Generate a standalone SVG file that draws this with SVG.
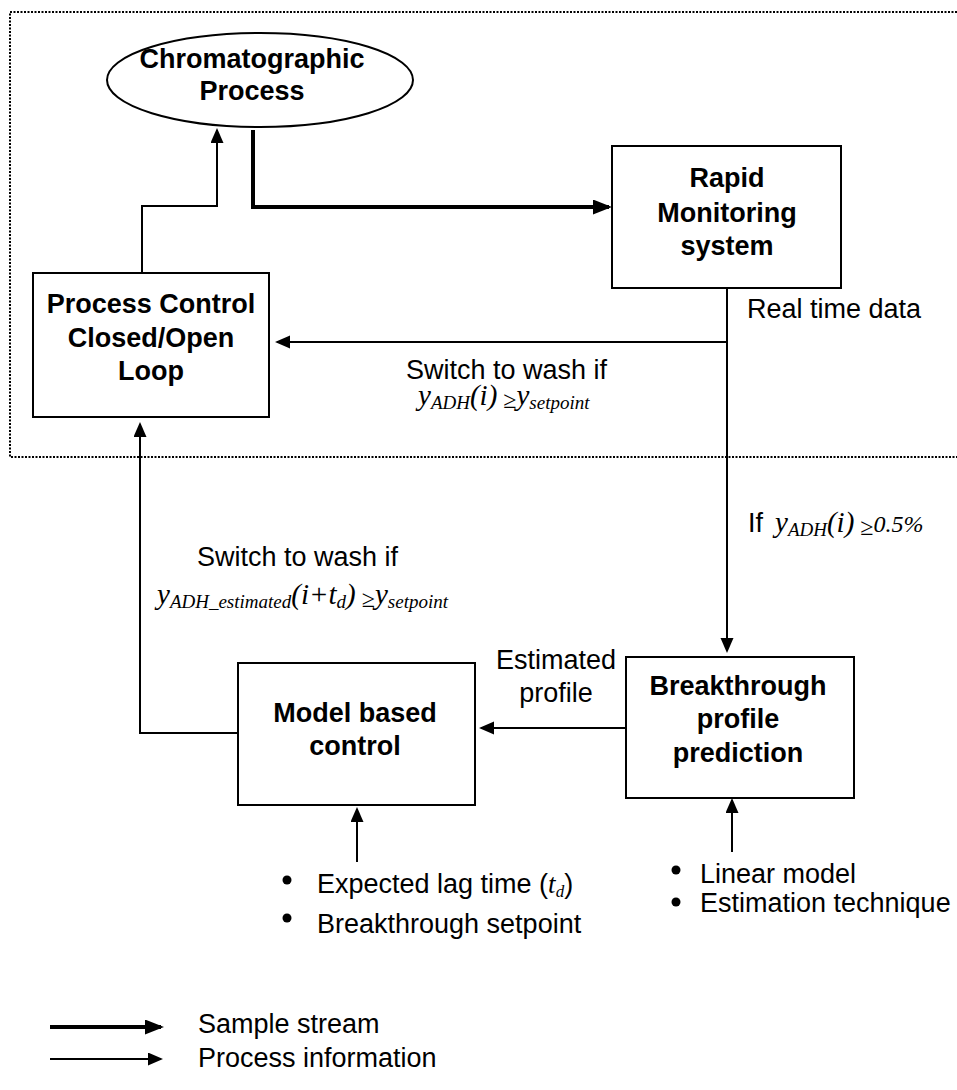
<svg xmlns="http://www.w3.org/2000/svg" width="957" height="1090" viewBox="0 0 957 1090">
  <style>
    .box { fill: #fff; stroke: #000; stroke-width: 2; }
    .title { font-family: "Liberation Sans", Arial, sans-serif; font-weight: bold; font-size: 27px; text-anchor: middle; fill: #000; }
    .lbl { font-family: "Liberation Sans", Arial, sans-serif; font-size: 27px; fill: #000; }
    .math { font-family: "Liberation Serif", "Times New Roman", serif; font-style: italic; font-size: 29px; fill: #000; }
    .sub { font-size: 19px; }
    .ge { font-size: 24px; font-style: normal; }
    .thin { fill: none; stroke: #000; stroke-width: 2; marker-end: url(#head); }
    .thick { fill: none; stroke: #000; stroke-width: 4; marker-end: url(#headBig); }
    .frame { fill: none; stroke: #000; stroke-width: 2; stroke-dasharray: 2 1.5; }
  </style>
  <defs>
    <marker id="head" markerUnits="userSpaceOnUse" markerWidth="16" markerHeight="14" refX="13" refY="6.5" orient="auto">
      <path d="M0,0 L15,6.5 L0,13 z" fill="#000"/>
    </marker>
    <marker id="headBig" markerUnits="userSpaceOnUse" markerWidth="20" markerHeight="16" refX="16" refY="7.5" orient="auto">
      <path d="M0,0 L19,7.5 L0,15 z" fill="#000"/>
    </marker>
  </defs>

  <rect width="957" height="1090" fill="#fff"/>

  <!-- dotted boundary of the real-time monitoring loop -->
  <path class="frame" d="M957,12 H10 V457 H957"/>

  <g id="connectors">
    <path class="thin" d="M142,273 V206 H217 V130"/>
    <path class="thick" d="M253,130 V207 H609"/>
    <path class="thin" d="M727,288 V651"/>
    <path class="thin" d="M727,342 H277"/>
    <path class="thin" d="M238,733 H140 V424"/>
    <path class="thin" d="M626,728 H481"/>
    <path class="thin" d="M357,862 V809"/>
    <path class="thin" d="M732,852 V800"/>
  </g>

  <g id="chromatographic-process">
    <ellipse cx="260" cy="80" rx="153" ry="47" class="box"/>
    <text class="title" x="252" y="68">Chromatographic</text>
    <text class="title" x="252" y="100">Process</text>
  </g>

  <g id="rapid-monitoring">
    <rect x="612" y="146" width="229" height="142" class="box"/>
    <text class="title" x="727" y="187">Rapid</text>
    <text class="title" x="727" y="222">Monitoring</text>
    <text class="title" x="727" y="255">system</text>
  </g>

  <g id="process-control">
    <rect x="33" y="273" width="236" height="144" class="box"/>
    <text class="title" x="151" y="313">Process Control</text>
    <text class="title" x="151" y="347">Closed/Open</text>
    <text class="title" x="151" y="380">Loop</text>
  </g>

  <g id="model-based-control">
    <rect x="238" y="663" width="237" height="142" class="box"/>
    <text class="title" x="355" y="722">Model based</text>
    <text class="title" x="355" y="755">control</text>
  </g>

  <g id="breakthrough-prediction">
    <rect x="626" y="657" width="228" height="141" class="box"/>
    <text class="title" x="738" y="695">Breakthrough</text>
    <text class="title" x="738" y="728">profile</text>
    <text class="title" x="738" y="762">prediction</text>
  </g>

  <g id="labels">
    <text class="lbl" x="747" y="318">Real time data</text>

    <text class="lbl" x="406" y="379">Switch to wash if</text>
    <text class="math" x="418" y="405">y<tspan class="sub" dy="4">ADH</tspan><tspan dy="-4">(i)</tspan><tspan class="ge" dy="3"> ≥</tspan><tspan dy="-3">y</tspan><tspan class="sub" dy="4">setpoint</tspan></text>

    <text class="lbl" x="748" y="532">If</text>
    <text class="math" x="775" y="532">y<tspan class="sub" dy="4">ADH</tspan><tspan dy="-4">(i)</tspan><tspan class="ge" dy="3"> ≥</tspan><tspan font-size="24" dy="-3">0.5%</tspan></text>

    <text class="lbl" x="197" y="566">Switch to wash if</text>
    <text class="math" x="157" y="604">y<tspan class="sub" dy="4">ADH_estimated</tspan><tspan dy="-4">(i+t</tspan><tspan class="sub" dy="4">d</tspan><tspan dy="-4">)</tspan><tspan class="ge" dy="3"> ≥</tspan><tspan dy="-3">y</tspan><tspan class="sub" dy="4">setpoint</tspan></text>

    <text class="lbl" x="556" y="669" text-anchor="middle">Estimated</text>
    <text class="lbl" x="556" y="702" text-anchor="middle">profile</text>

    <circle cx="287" cy="880" r="4.5" fill="#000"/>
    <text class="lbl" x="317" y="893">Expected lag time (<tspan font-family="Liberation Serif, serif" font-style="italic">t</tspan><tspan font-family="Liberation Serif, serif" font-style="italic" font-size="17" dy="4">d</tspan><tspan dy="-4">)</tspan></text>
    <circle cx="287" cy="918" r="4.5" fill="#000"/>
    <text class="lbl" x="317" y="933">Breakthrough setpoint</text>

    <circle cx="676" cy="870" r="4.5" fill="#000"/>
    <text class="lbl" x="700" y="883">Linear model</text>
    <circle cx="676" cy="902" r="4.5" fill="#000"/>
    <text class="lbl" x="700" y="912">Estimation technique</text>
  </g>

  <g id="legend">
    <path class="thick" d="M50,1027 H161"/>
    <text class="lbl" x="198" y="1033">Sample stream</text>
    <path class="thin" d="M50,1059 H161"/>
    <text class="lbl" x="198" y="1067">Process information</text>
  </g>
</svg>
